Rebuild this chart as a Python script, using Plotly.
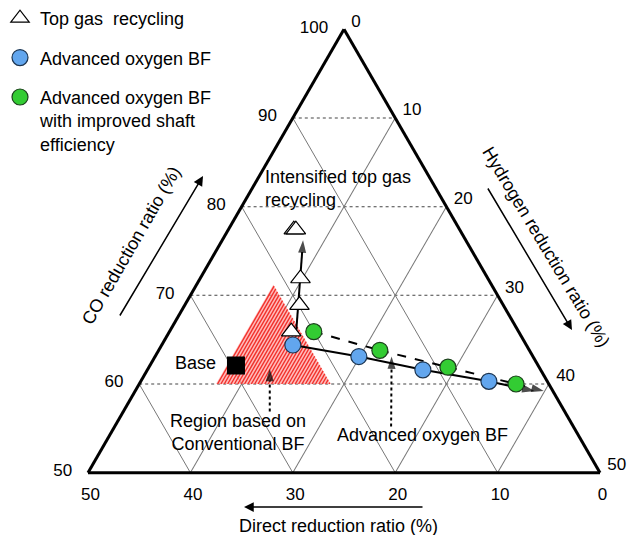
import numpy as np
import plotly.graph_objects as go

W, H = 632, 535
FONT = "Liberation Sans, Arial, sans-serif"

# ---------------- data (CO, DR = direct reduction, H2), in % ----------------
# Top gas recycling (triangles)
tg_co = [65.9, 68.9, 71.9, 77.4, 77.4]
tg_dr = [22.2, 19.9, 18.3, 16.2, 16.0]
tg_h2 = [11.9, 11.2, 9.8, 6.4, 6.6]

# Advanced oxygen BF (blue circles)
ao_co = [64.4, 63.1, 61.6, 60.3]
ao_dr = [22.8, 17.0, 11.5, 5.7]
ao_h2 = [12.8, 19.9, 26.9, 34.0]

# Advanced oxygen BF with improved shaft efficiency (green circles)
gs_co = [65.9, 63.8, 61.9, 60.0]
gs_dr = [20.0, 14.6, 8.9, 3.2]
gs_h2 = [14.1, 21.6, 29.2, 36.8]

# Base operation (black square)
base_co = [62.1]
base_dr = [29.5]
base_h2 = [8.4]

# Region based on conventional BF: CO >= 60, DR >= 21.3, H2 >= 7.5
reg_co_min = 60.0
reg_dr_min = 21.3
reg_h2_min = 7.5

# Trend arrows (start -> tip)
ao_arrow_end = (59.2, 1.8, 39.0)
gs_arrow_end = (59.2, 0.9, 39.9)
tg_arrow_co = [65.4, 76.2]
tg_arrow_dr = [22.0, 15.9]
tg_arrow_h2 = [12.6, 7.9]
reg_ptr_co = [56.9, 61.7]
reg_ptr_dr = [28.8, 26.4]
reg_ptr_h2 = [14.3, 11.9]
ao_ptr_co = [55.2, 63.1]
ao_ptr_dr = [17.8, 13.8]
ao_ptr_h2 = [27.0, 23.1]

co_ticks = [50, 60, 70, 80, 90, 100]
dr_ticks = [0, 10, 20, 30, 40, 50]
h2_ticks = [0, 10, 20, 30, 40, 50]

# ---------------------------------------------------------------------------
fig = go.Figure()

# region polygon (vertices from the three bounds)
h2_max = 100 - reg_co_min - reg_dr_min
reg_a = [100 - reg_dr_min - reg_h2_min, reg_co_min, reg_co_min,
         100 - reg_dr_min - reg_h2_min]
reg_b = [reg_dr_min, 100 - reg_co_min - reg_h2_min, reg_dr_min, reg_dr_min]
reg_c = [reg_h2_min, reg_h2_min, h2_max, reg_h2_min]
fig.add_trace(go.Scatterternary(
    a=reg_a, b=reg_b, c=reg_c, mode="lines", fill="toself",
    fillcolor="rgba(255,150,150,0.65)", line=dict(width=0),
    showlegend=False, hoverinfo="skip"))

# hatching: segments of constant H2 inside the region
ha, hb, hc = [], [], []
for hv in np.arange(reg_h2_min + 0.15, h2_max, 0.33):
    ha += [reg_co_min, 100 - reg_dr_min - hv, None]
    hb += [100 - reg_co_min - hv, reg_dr_min, None]
    hc += [hv, hv, None]
fig.add_trace(go.Scatterternary(
    a=ha, b=hb, c=hc, mode="lines", line=dict(color="#f2312b", width=1.4),
    showlegend=False, hoverinfo="skip"))


def arrow_trace(a, b, c, dash, width=2, head=13):
    n = len(a)
    return go.Scatterternary(
        a=a, b=b, c=c, mode="lines+markers",
        line=dict(color="black", width=width, dash=dash),
        marker=dict(symbol="arrow", size=[0] * (n - 1) + [head], color="black",
                    angleref="previous", line=dict(width=0)),
        showlegend=False, hoverinfo="skip")


fig.add_trace(arrow_trace(ao_co + [ao_arrow_end[0]], ao_dr + [ao_arrow_end[1]],
                          ao_h2 + [ao_arrow_end[2]], "solid"))
fig.add_trace(arrow_trace(gs_co + [gs_arrow_end[0]], gs_dr + [gs_arrow_end[1]],
                          gs_h2 + [gs_arrow_end[2]], "dash"))
fig.add_trace(arrow_trace(tg_arrow_co, tg_arrow_dr, tg_arrow_h2, "solid"))
fig.add_trace(arrow_trace(reg_ptr_co, reg_ptr_dr, reg_ptr_h2, "dot"))
fig.add_trace(arrow_trace(ao_ptr_co, ao_ptr_dr, ao_ptr_h2, "dot"))

fig.add_trace(go.Scatterternary(
    a=tg_co, b=tg_dr, c=tg_h2, mode="markers", name="Top gas\u00a0 recycling",
    legendgroup="g1",
    marker=dict(symbol="triangle-up", size=17, color="white",
                line=dict(color="black", width=1.2))))
fig.add_trace(go.Scatterternary(
    a=ao_co, b=ao_dr, c=ao_h2, mode="markers", name="Advanced oxygen BF",
    legendgroup="g2",
    marker=dict(symbol="circle", size=16, color="#62a6ee",
                line=dict(color="#1d3550", width=1.2))))
fig.add_trace(go.Scatterternary(
    a=gs_co, b=gs_dr, c=gs_h2, mode="markers",
    name="Advanced oxygen BF<br>with improved shaft<br>efficiency",
    legendgroup="g3",
    marker=dict(symbol="circle", size=16, color="#33cc33",
                line=dict(color="#1c401c", width=1.2))))
fig.add_trace(go.Scatterternary(
    a=base_co, b=base_dr, c=base_h2, mode="markers", showlegend=False,
    marker=dict(symbol="square", size=18, color="black")))

axis_common = dict(showline=True, linecolor="black", linewidth=3,
                   ticks="outside", tickcolor="rgba(0,0,0,0)",
                   tickfont=dict(size=17, color="black", family=FONT),
                   showgrid=True, title=dict(text=""))

# triangle: apex near (343, 31), base at y=471, from x=86 to x=601 (page px)
cx, cy, side = 344, 251, 512
xd = side / W
fig.update_layout(
    width=W, height=H,
    margin=dict(l=0, r=0, t=0, b=0),
    paper_bgcolor="white",
    font=dict(family=FONT, size=18, color="black"),
    ternary=dict(
        sum=100,
        bgcolor="white",
        domain=dict(x=[cx / W - xd / 2, cx / W + xd / 2],
                    y=[1 - cy / H - 0.44, 1 - cy / H + 0.44]),
        aaxis=dict(min=50, tickvals=co_ticks, gridcolor="#444", gridwidth=1,
                   griddash="dot", ticklen=12, **axis_common),
        baxis=dict(min=0, tickvals=dr_ticks, gridcolor="#777", gridwidth=0.7,
                   ticklen=5, **axis_common),
        caxis=dict(min=0, tickvals=h2_ticks, gridcolor="#777", gridwidth=0.7,
                   ticklen=7, **axis_common),
    ),
    legend=dict(x=0, y=1, xanchor="left", yanchor="top",
                bgcolor="rgba(0,0,0,0)", font=dict(size=18, family=FONT),
                traceorder="grouped", tracegroupgap=13, valign="top"),
    showlegend=True,
)


def px(x, y):
    return x / W, 1 - y / H


ann = []


def text(x, y, t, xanchor="center", align="center", angle=0):
    xp, yp = px(x, y)
    ann.append(dict(x=xp, y=yp, xref="paper", yref="paper", text=t,
                    showarrow=False, xanchor=xanchor, yanchor="middle",
                    align=align, textangle=angle, font=dict(size=18)))


def arrow(x0, y0, x1, y1):
    xp, yp = px(x1, y1)
    ann.append(dict(x=xp, y=yp, xref="paper", yref="paper", text="",
                    showarrow=True, ax=x0 - x1, ay=y0 - y1,
                    arrowhead=2, arrowsize=1.3, arrowwidth=1.5,
                    arrowcolor="black"))


text(263, 188, "Intensified top gas<br>recycling", xanchor="left", align="left")
text(218, 363, "Base", xanchor="right")
text(238, 432, "Region based on<br>Conventional BF")
text(422, 435, "Advanced oxygen BF")
text(338, 526, "Direct reduction ratio (%)")
text(131, 246, "CO reduction ratio (%)", angle=-60)
text(546, 247, "Hydrogen reduction ratio (%)", angle=59)
arrow(119, 317, 203, 176)
arrow(487, 187, 572, 330)
arrow(424, 507, 244, 507)

fig.update_layout(annotations=ann)
# remove the default 8px page margin so the figure sits at the page origin
fig.write_html("out.html", config={"displayModeBar": False},
               post_script="document.body.style.margin='0';")
